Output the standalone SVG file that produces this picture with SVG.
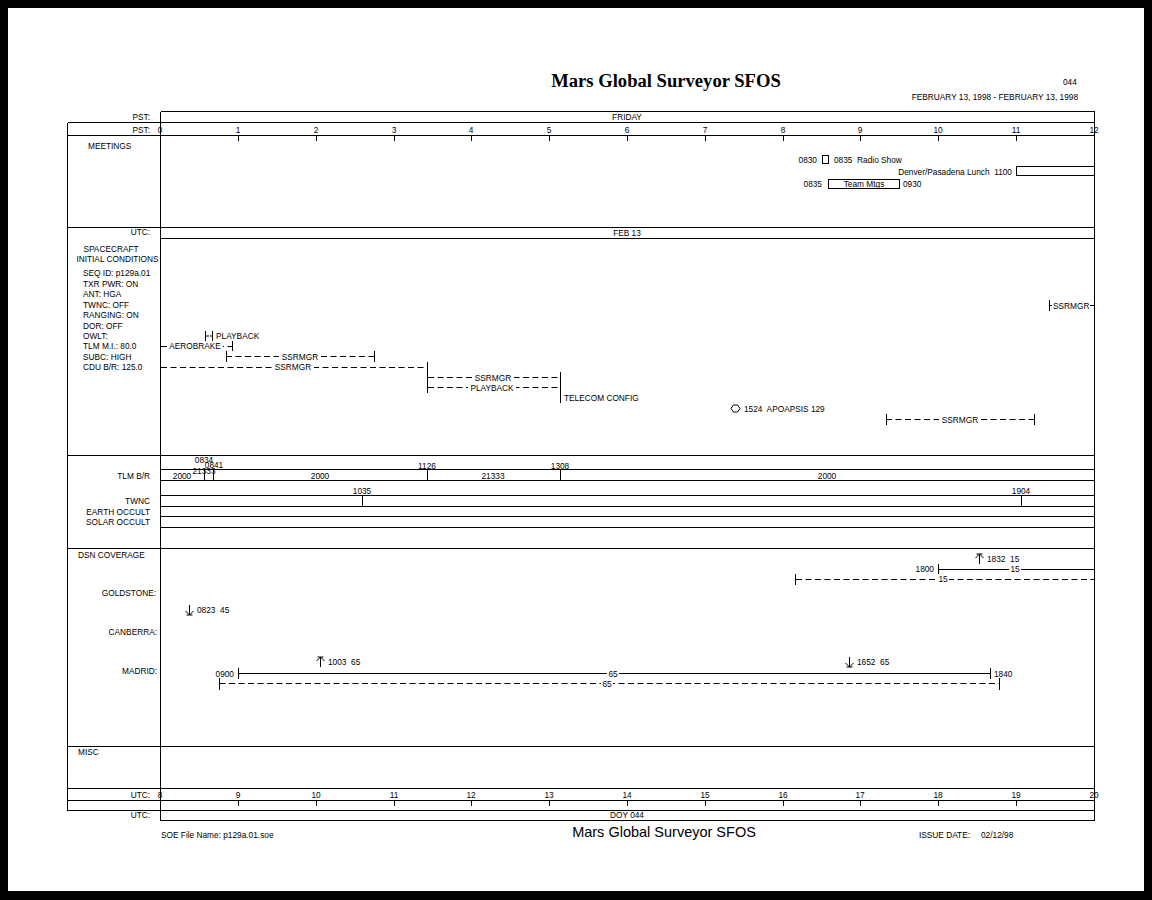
<svg xmlns="http://www.w3.org/2000/svg" width="1152" height="900" viewBox="0 0 1152 900">
<style>
.t{font-family:"Liberation Sans",Arial,sans-serif;font-size:8.3px;fill:#000}
.m{text-anchor:middle}
.e{text-anchor:end}
.ln{stroke:#000;stroke-width:1;fill:none}
.f{stroke:#000;stroke-width:1;fill:none;shape-rendering:crispEdges}
.d{stroke-dasharray:6 3.5}
.bg{fill:#fff}
.title{font-family:"Liberation Serif","Times New Roman",serif;font-weight:bold;font-size:18.6px;fill:#000}
.foot{font-family:"Liberation Sans",Arial,sans-serif;font-size:14.5px;fill:#000}
</style>
<defs>
<g id="up"><path class="ln" d="M-3 -5H3M0 -5V5M-4 -1L0 -5L4 -1"/></g>
<g id="down"><path class="ln" d="M-3 5H3M0 -5V5M-4 1L0 5L4 1"/></g>
</defs>
<rect x="0" y="0" width="1152" height="900" fill="#000"/>
<rect x="8" y="8" width="1136" height="883" fill="#fff"/>

<g id="header">
<text class="title m" x="666" y="87">Mars Global Surveyor SFOS</text>
<text class="t" x="1063" y="85">044</text>
<text class="t e" x="1078" y="100">FEBRUARY 13, 1998 - FEBRUARY 13, 1998</text>
</g>

<g id="frame">
<path class="f" d="M160.5 111.5H1094.5M67.5 122.5H1094.5M67.5 135.5H1094.5M67.5 227.5H1094.5M160.5 238.5H1094.5M67.5 455.5H1094.5M160.5 469.5H1094.5M160.5 480.5H1094.5M160.5 495.5H1094.5M160.5 506.5H1094.5M160.5 516.5H1094.5M160.5 527.5H1094.5M67.5 548.5H1094.5M67.5 746.5H1094.5M67.5 788.5H1094.5M67.5 800.5H1094.5M67.5 810.5H1094.5M160.5 820.5H1094.5M67.5 122.5V810.5M160.5 111.5V820.5M1094.5 111.5V820.5"/>
<path class="f" d="M238.5 135V141M316.5 135V141M394.5 135V141M471.5 135V141M549.5 135V141M627.5 135V141M705.5 135V141M783.5 135V141M860.5 135V141M938.5 135V141M1016.5 135V141"/>
<path class="f" d="M238.5 800V806M316.5 800V806M394.5 800V806M471.5 800V806M549.5 800V806M627.5 800V806M705.5 800V806M783.5 800V806M860.5 800V806M938.5 800V806M1016.5 800V806"/>
<text class="t e" x="150" y="120">PST:</text>
<text class="t m" x="627" y="120">FRIDAY</text>
<text class="t e" x="150" y="133">PST:</text>
<g class="t m">
<text x="160" y="133">0</text><text x="238" y="133">1</text><text x="316" y="133">2</text><text x="394" y="133">3</text><text x="471" y="133">4</text><text x="549" y="133">5</text><text x="627" y="133">6</text><text x="705" y="133">7</text><text x="783" y="133">8</text><text x="860" y="133">9</text><text x="938" y="133">10</text><text x="1016" y="133">11</text><text x="1094" y="133">12</text>
</g>
<text class="t e" x="150" y="235">UTC:</text>
<text class="t m" x="627" y="235.5">FEB 13</text>
<text class="t e" x="150" y="798">UTC:</text>
<g class="t m">
<text x="160" y="798">8</text><text x="238" y="798">9</text><text x="316" y="798">10</text><text x="394" y="798">11</text><text x="471" y="798">12</text><text x="549" y="798">13</text><text x="627" y="798">14</text><text x="705" y="798">15</text><text x="783" y="798">16</text><text x="860" y="798">17</text><text x="938" y="798">18</text><text x="1016" y="798">19</text><text x="1094" y="798">20</text>
</g>
<text class="t e" x="150" y="818">UTC:</text>
<text class="t m" x="627" y="818">DOY 044</text>
</g>

<g id="meetings">
<text class="t" x="88" y="149">MEETINGS</text>
<text class="t e" x="817" y="163">0830</text>
<rect class="f" x="822.5" y="155.5" width="6" height="8"/>
<text class="t" x="834" y="163" xml:space="preserve">0835  Radio Show</text>
<text class="t e" x="1012" y="175" xml:space="preserve">Denver/Pasadena Lunch  1100</text>
<rect class="f" x="1016.5" y="166.5" width="78" height="9"/>
<text class="t e" x="822" y="187">0835</text>
<rect class="f" x="828.5" y="179.5" width="71" height="9"/>
<text class="t m" x="864" y="187">Team Mtgs</text>
<text class="t" x="903" y="187">0930</text>
</g>

<g id="spacecraft">
<text class="t m" x="111" y="252">SPACECRAFT</text>
<text class="t m" x="117.5" y="262">INITIAL CONDITIONS</text>
<text class="t" x="83" y="276">SEQ ID: p129a.01</text>
<text class="t" x="83" y="287">TXR PWR: ON</text>
<text class="t" x="83" y="297">ANT: HGA</text>
<text class="t" x="83" y="308">TWNC: OFF</text>
<text class="t" x="83" y="318">RANGING: ON</text>
<text class="t" x="83" y="329">DOR: OFF</text>
<text class="t" x="83" y="339">OWLT:</text>
<text class="t" x="83" y="349">TLM M.I.: 80.0</text>
<text class="t" x="83" y="360">SUBC: HIGH</text>
<text class="t" x="83" y="370">CDU B/R: 125.0</text>
</g>

<g id="connectors">
<path class="ln" d="M205.5 331V341M205.5 336H209M210 336H212.5M212.5 331V341"/>
<text class="t" x="216" y="339">PLAYBACK</text>
<path class="ln d" d="M161 346.5H232.5"/>
<path class="ln" d="M232.5 341V351"/>
<rect class="bg" x="167" y="341" width="56" height="10"/>
<text class="t m" x="195" y="349">AEROBRAKE</text>
<path class="ln d" d="M226 356.5H374.5"/>
<path class="ln" d="M226.5 351V362M374.5 351V362"/>
<rect class="bg" x="279" y="351" width="42" height="10"/>
<text class="t m" x="300" y="359.5">SSRMGR</text>
<path class="ln d" d="M161 367.5H427"/>
<path class="ln" d="M427.5 362V393"/>
<rect class="bg" x="272" y="362" width="42" height="10"/>
<text class="t m" x="293" y="370">SSRMGR</text>
<path class="ln d" d="M428 377.5H560M428 387.5H560"/>
<path class="ln" d="M560.5 372V403"/>
<rect class="bg" x="472" y="372" width="42" height="10"/>
<text class="t m" x="493" y="380.5">SSRMGR</text>
<rect class="bg" x="468" y="382" width="48" height="10"/>
<text class="t m" x="492" y="390.5">PLAYBACK</text>
<text class="t" x="564" y="401">TELECOM CONFIG</text>
<polygon class="ln" points="731,408.5 733.5,405 737.5,405 740,408.5 737.5,412 733.5,412"/>
<text class="t" x="744" y="411.5" xml:space="preserve">1524  APOAPSIS 129</text>
<path class="ln" d="M1049.5 300V311M1049.5 305.5H1052M1090 305.5H1094"/>
<text class="t" x="1053" y="308.5">SSRMGR</text>
<path class="ln d" d="M886 419.5H1034.5"/>
<path class="ln" d="M886.5 414V425M1034.5 414V425"/>
<rect class="bg" x="939" y="414" width="42" height="10"/>
<text class="t m" x="960" y="422.5">SSRMGR</text>
</g>

<g id="tlm">
<text class="t e" x="150" y="479">TLM B/R</text>
<text class="t e" x="150" y="504">TWNC</text>
<text class="t e" x="150" y="515">EARTH OCCULT</text>
<text class="t e" x="150" y="525">SOLAR OCCULT</text>
<path class="f" d="M204.5 469V480M213.5 469V480M427.5 469V480M560.5 469V480M362.5 495V506M1021.5 495V506"/>
<text class="t m" x="204" y="463">0834</text>
<text class="t m" x="214" y="467.5">0841</text>
<text class="t m" x="204" y="473.5">21333</text>
<text class="t m" x="427" y="469">1126</text>
<text class="t m" x="560" y="469">1308</text>
<text class="t m" x="182" y="479">2000</text>
<text class="t m" x="320" y="479">2000</text>
<text class="t m" x="493" y="479">21333</text>
<text class="t m" x="827" y="479">2000</text>
<text class="t m" x="362" y="494">1035</text>
<text class="t m" x="1021" y="494">1904</text>
</g>

<g id="dsn">
<text class="t" x="78" y="558">DSN COVERAGE</text>
<text class="t e" x="156" y="596">GOLDSTONE:</text>
<text class="t e" x="157" y="635">CANBERRA:</text>
<text class="t e" x="157" y="674">MADRID:</text>
<use href="#up" x="979.5" y="559"/>
<text class="t" x="987" y="562" xml:space="preserve">1832  15</text>
<path class="ln" d="M938.5 569.5H1094M938.5 564V575"/>
<text class="t e" x="934" y="572">1800</text>
<rect class="bg" x="1009" y="564" width="12" height="10"/>
<text class="t m" x="1015" y="572">15</text>
<path class="ln d" d="M796 579.5H1094"/>
<path class="ln" d="M795.5 574V585"/>
<rect class="bg" x="937" y="574" width="12" height="10"/>
<text class="t m" x="943" y="582">15</text>
<use href="#down" x="189.5" y="610"/>
<text class="t" x="197" y="613" xml:space="preserve">0823  45</text>
<use href="#up" x="320.5" y="662"/>
<text class="t" x="328" y="665" xml:space="preserve">1003  65</text>
<use href="#down" x="849.5" y="662"/>
<text class="t" x="857" y="665" xml:space="preserve">1652  65</text>
<path class="ln" d="M238.5 673.5H991M238.5 668V679M990.5 668V679"/>
<text class="t e" x="234" y="676.5">0900</text>
<text class="t" x="994" y="676.5">1840</text>
<rect class="bg" x="607" y="668" width="12" height="10"/>
<text class="t m" x="613" y="676.5">65</text>
<path class="ln d" d="M219.5 683.5H999"/>
<path class="ln" d="M219.5 678V690M999.5 678V690"/>
<rect class="bg" x="601" y="678" width="12" height="10"/>
<text class="t m" x="607" y="686.5">65</text>
</g>

<g id="misc">
<text class="t" x="78" y="755">MISC</text>
</g>

<g id="footer">
<text class="t" x="161" y="838">SOE File Name: p129a.01.soe</text>
<text class="foot m" x="664" y="837">Mars Global Surveyor SFOS</text>
<text class="t" x="919" y="838">ISSUE DATE:</text>
<text class="t" x="981" y="838">02/12/98</text>
</g>
</svg>
